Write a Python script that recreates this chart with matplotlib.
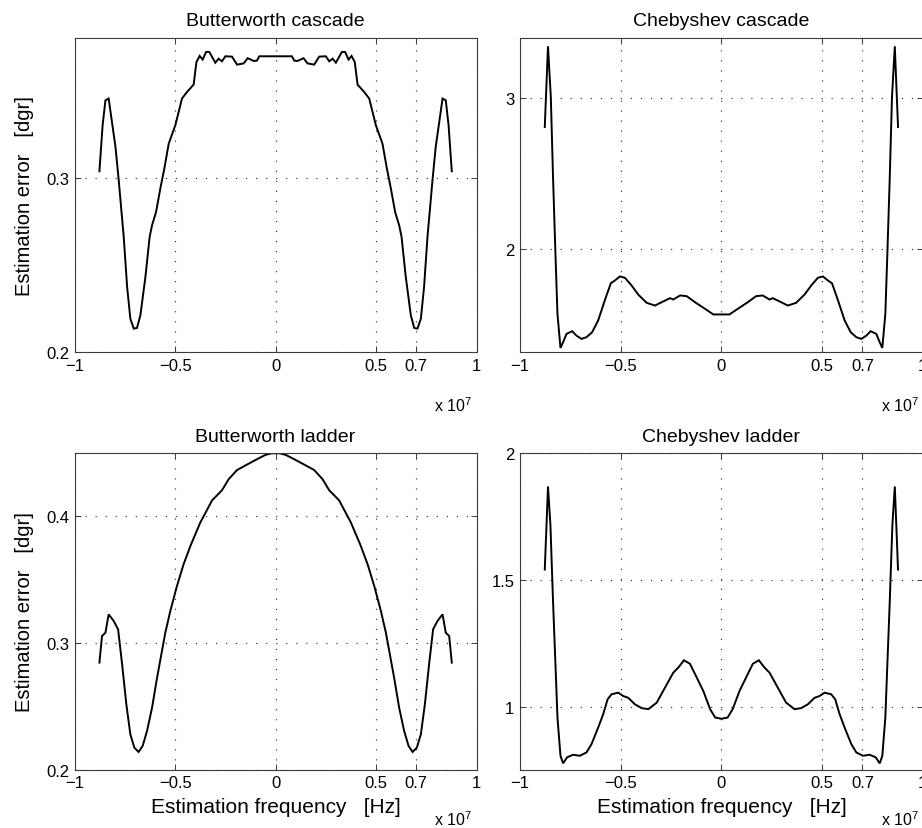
import matplotlib
matplotlib.use("Agg")
import matplotlib.pyplot as plt

plt.rcParams['font.family'] = ['Liberation Sans', 'DejaVu Sans']
plt.rcParams['mathtext.fontset'] = 'custom'
plt.rcParams['mathtext.rm'] = 'Liberation Sans'

# ---------------- data (x in units of 1e7 Hz) ----------------
bwc_x = [-0.877, -0.861, -0.847, -0.831, -0.797, -0.781, -0.756, -0.739, -0.723, -0.706, -0.690, -0.673,
         -0.648, -0.627, -0.615, -0.595, -0.574, -0.554, -0.532, -0.499, -0.466, -0.441, -0.408, -0.394,
         -0.378, -0.363, -0.346, -0.330, -0.300, -0.284, -0.267, -0.250, -0.217, -0.192, -0.159, -0.139,
         -0.109, -0.093, -0.081,
         0.081, 0.093, 0.109, 0.139, 0.159, 0.192, 0.217, 0.250, 0.267, 0.284, 0.300, 0.330, 0.346,
         0.363, 0.378, 0.394, 0.408, 0.441, 0.466, 0.499, 0.532, 0.554, 0.574, 0.595, 0.615, 0.627,
         0.648, 0.673, 0.690, 0.706, 0.723, 0.739, 0.756, 0.781, 0.797, 0.831, 0.847, 0.861, 0.877]
bwc_y = [0.304, 0.3305, 0.3448, 0.3458, 0.318, 0.299, 0.2663, 0.2375, 0.2193, 0.2136, 0.214, 0.2213,
         0.2433, 0.2663, 0.273, 0.2806, 0.294, 0.3055, 0.3199, 0.3305, 0.3458, 0.3496, 0.3538, 0.3668,
         0.3703, 0.3682, 0.3726, 0.3726, 0.3664, 0.3687, 0.3672, 0.3701, 0.3699, 0.3653, 0.366, 0.369,
         0.3674, 0.3676, 0.3701,
         0.3701, 0.3676, 0.3674, 0.369, 0.366, 0.3653, 0.3699, 0.3701, 0.3672, 0.3687, 0.3664, 0.3726,
         0.3726, 0.3682, 0.3703, 0.3668, 0.3538, 0.3496, 0.3458, 0.3305, 0.3199, 0.3055, 0.294, 0.2806,
         0.273, 0.2663, 0.2433, 0.2213, 0.214, 0.2136, 0.2193, 0.2375, 0.2663, 0.299, 0.318, 0.3458,
         0.3448, 0.3305, 0.304]

chc_x = [-0.877, -0.861, -0.847, -0.836, -0.824, -0.814, -0.799, -0.786, -0.769, -0.741, -0.720, -0.695,
         -0.670, -0.642, -0.612, -0.579, -0.549, -0.529, -0.504, -0.479, -0.446, -0.413, -0.371, -0.330,
         -0.297, -0.255, -0.239, -0.205, -0.172, -0.131, -0.081, -0.040,
         0.040, 0.081, 0.131, 0.172, 0.205, 0.239, 0.255, 0.297, 0.330, 0.371, 0.413, 0.446, 0.479,
         0.504, 0.529, 0.549, 0.579, 0.612, 0.642, 0.670, 0.695, 0.720, 0.741, 0.769, 0.786, 0.799,
         0.814, 0.824, 0.836, 0.847, 0.861, 0.877]
chc_y = [2.81, 3.345, 3.009, 2.478, 1.969, 1.571, 1.345, 1.383, 1.438, 1.456, 1.427, 1.405,
         1.416, 1.449, 1.527, 1.66, 1.774, 1.792, 1.819, 1.81, 1.759, 1.699, 1.644, 1.626,
         1.648, 1.675, 1.666, 1.693, 1.688, 1.648, 1.604, 1.567,
         1.567, 1.604, 1.648, 1.688, 1.693, 1.666, 1.675, 1.648, 1.626, 1.644, 1.699, 1.759, 1.81,
         1.819, 1.792, 1.774, 1.66, 1.527, 1.449, 1.416, 1.405, 1.427, 1.456, 1.438, 1.383, 1.345,
         1.571, 1.969, 2.478, 3.009, 3.345, 2.81]

bwl_x = [-0.877, -0.864, -0.847, -0.831, -0.806, -0.784, -0.764, -0.743, -0.723, -0.703, -0.682, -0.662,
         -0.640, -0.615, -0.590, -0.549, -0.524, -0.491, -0.458, -0.424, -0.375, -0.316, -0.267, -0.234,
         -0.192, -0.134, -0.093, -0.051, -0.020,
         0.020, 0.051, 0.093, 0.134, 0.192, 0.234, 0.267, 0.316, 0.375, 0.424, 0.458, 0.491, 0.524,
         0.549, 0.590, 0.615, 0.640, 0.662, 0.682, 0.703, 0.723, 0.743, 0.764, 0.784, 0.806, 0.831,
         0.847, 0.864, 0.877]
bwl_y = [0.2845, 0.3055, 0.3081, 0.3226, 0.3174, 0.3108, 0.2832, 0.2516, 0.2279, 0.2174, 0.214, 0.2187,
         0.2305, 0.2489, 0.2726, 0.3081, 0.3253, 0.345, 0.3621, 0.3766, 0.395, 0.4126, 0.4205, 0.4292,
         0.4365, 0.4415, 0.445, 0.4484, 0.4497,
         0.4497, 0.4484, 0.445, 0.4415, 0.4365, 0.4292, 0.4205, 0.4126, 0.395, 0.3766, 0.3621, 0.345,
         0.3253, 0.3081, 0.2726, 0.2489, 0.2305, 0.2187, 0.214, 0.2174, 0.2279, 0.2516, 0.2832, 0.3108,
         0.3174, 0.3226, 0.3081, 0.3055, 0.2845]

chl_x = [-0.877, -0.861, -0.849, -0.836, -0.824, -0.814, -0.799, -0.786, -0.766, -0.736, -0.703, -0.670,
         -0.645, -0.612, -0.587, -0.565, -0.545, -0.512, -0.488, -0.463, -0.429, -0.396, -0.363, -0.321,
         -0.280, -0.239, -0.214, -0.186, -0.156, -0.122, -0.090, -0.056, -0.031, 0.000,
         0.031, 0.056, 0.090, 0.122, 0.156, 0.186, 0.214, 0.239, 0.280, 0.321, 0.363, 0.396, 0.429,
         0.463, 0.488, 0.512, 0.545, 0.565, 0.587, 0.612, 0.645, 0.670, 0.703, 0.736, 0.766, 0.786,
         0.799, 0.814, 0.824, 0.836, 0.849, 0.861, 0.877]
chl_y = [1.541, 1.869, 1.718, 1.416, 1.167, 0.957, 0.806, 0.776, 0.80, 0.81, 0.806, 0.819,
         0.852, 0.917, 0.970, 1.029, 1.049, 1.055, 1.042, 1.035, 1.009, 0.994, 0.99, 1.016,
         1.075, 1.134, 1.154, 1.183, 1.169, 1.114, 1.062, 0.99, 0.957, 0.952,
         0.957, 0.99, 1.062, 1.114, 1.169, 1.183, 1.154, 1.134, 1.075, 1.016, 0.99, 0.994, 1.009,
         1.035, 1.042, 1.055, 1.049, 1.029, 0.970, 0.917, 0.852, 0.819, 0.806, 0.81, 0.80, 0.776,
         0.806, 0.957, 1.167, 1.416, 1.718, 1.869, 1.541]

titles = ["Butterworth cascade", "Chebyshev cascade", "Butterworth ladder", "Chebyshev ladder"]
x_ticks = [-1, -0.5, 0, 0.5, 0.7, 1]
x_ticklabels = ["\u22121", "\u22120.5", "0", "0.5", "0.7", "1"]
y_ticks = [[0.2, 0.3], [2, 3], [0.2, 0.3, 0.4], [1, 1.5, 2]]
y_ticklabels = [["0.2", "0.3"], ["2", "3"], ["0.2", "0.3", "0.4"], ["1", "1.5", "2"]]
y_limits = [(0.2, 0.3806), (1.316, 3.40), (0.2, 0.4497), (0.751, 2.0)]
xlabel = "Estimation frequency   [Hz]"
ylabel = "Estimation error   [dgr]"

series = [(bwc_x, bwc_y), (chc_x, chc_y), (bwl_x, bwl_y), (chl_x, chl_y)]

# ---------------- figure ----------------
W, H = 922, 829
fig = plt.figure(figsize=(W / 100, H / 100), dpi=100)

def rect(l, t, r, b):
    return [l / W, 1 - b / H, (r - l) / W, (b - t) / H]

rects = [rect(74.7, 39, 476.5, 353.3), rect(520, 39, 922.8, 353.3),
         rect(74.7, 454.3, 476.5, 770.7), rect(520, 454.3, 922.8, 770.7)]

spine_col = '#3a3a3a'
for i, (xs, ys) in enumerate(series):
    ax = fig.add_axes(rects[i])
    ax.plot(xs, ys, color='black', lw=1.4, solid_joinstyle='miter')
    ax.set_xlim(-1, 1)
    ax.set_ylim(*y_limits[i])
    ax.set_xticks(x_ticks)
    ax.set_xticklabels(x_ticklabels)
    ax.set_yticks(y_ticks[i])
    ax.set_yticklabels(y_ticklabels[i])
    ax.grid(True, color='#333333', linestyle=(0, (1, 7.5)), linewidth=0.85)
    ax.tick_params(direction='in', length=4, width=0.7, color=spine_col,
                   top=True, right=True, labelsize=12, pad=4)
    for s in ax.spines.values():
        s.set_color(spine_col)
        s.set_linewidth(0.8)
    ax.set_title(titles[i], fontsize=14, pad=9)
    ax.text(0.99, -0.165 if i < 2 else -0.155, r'x 10$^{7}$', transform=ax.transAxes,
            ha='right', va='center', fontsize=11.5)
    if i % 2 == 0:
        ax.set_ylabel(ylabel, fontsize=14.5, labelpad=9)
    if i >= 2:
        ax.set_xlabel(xlabel, fontsize=15, labelpad=5)

fig.savefig("out.png", dpi=100)
